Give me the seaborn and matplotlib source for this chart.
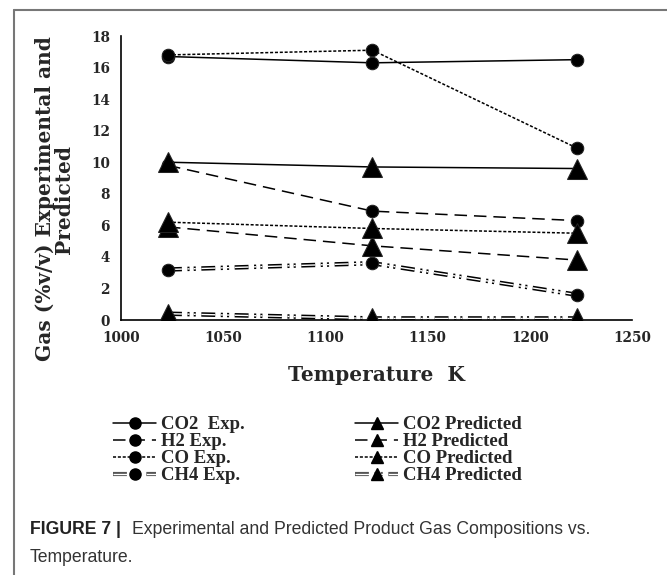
import matplotlib
matplotlib.use("Agg")
import matplotlib.pyplot as plt
import seaborn as sns
from matplotlib.lines import Line2D
from matplotlib.legend_handler import HandlerTuple

sns.set_style("white")
plt.rcParams["lines.scale_dashes"] = False

temperature = [1023, 1123, 1223]
co2_exp = [16.7, 16.3, 16.5]
h2_exp = [9.8, 6.9, 6.3]
co_exp = [16.8, 17.1, 10.9]
ch4_exp = [3.2, 3.6, 1.6]
co2_pred = [10.0, 9.7, 9.6]
h2_pred = [5.9, 4.7, 3.8]
co_pred = [6.2, 5.8, 5.5]
ch4_pred = [0.4, 0.1, 0.1]

x_ticks = [1000, 1050, 1100, 1150, 1200, 1250]
y_ticks = [0, 2, 4, 6, 8, 10, 12, 14, 16, 18]

serif = ["DejaVu Serif"]
times = ["Liberation Serif"]

fig = plt.figure(figsize=(6.67, 5.75), dpi=100)
ax = fig.add_axes([121 / 667, 1 - 320 / 575, (632 - 121) / 667, (320 - 36) / 575])

dash_long = (0, (9, 5))
dash_short = (0, (2.2, 1.3))
dash_ch4 = (0, (10, 4, 1.5, 3, 1.5, 4))

series = [
    (co2_exp, "o", "-", "CO2  Exp."),
    (h2_exp, "o", dash_long, "H2 Exp."),
    (co_exp, "o", dash_short, "CO Exp."),
    (ch4_exp, "o", None, "CH4 Exp."),
    (co2_pred, "^", "-", "CO2 Predicted"),
    (h2_pred, "^", dash_long, "H2 Predicted"),
    (co_pred, "^", dash_short, "CO Predicted"),
    (ch4_pred, "^", None, "CH4 Predicted"),
]

handles = []
labels = []
for vals, mk, ls, lab in series:
    ms = 9 if mk == "o" else 14
    lms = 8 if mk == "o" else 9
    if ls is None:
        sns.lineplot(x=temperature, y=vals, ax=ax, color="black", lw=3.2,
                     linestyle=dash_ch4, zorder=2)
        sns.lineplot(x=temperature, y=vals, ax=ax, color="white", lw=1.0,
                     linestyle=dash_ch4, zorder=2.1)
        sns.lineplot(x=temperature, y=vals, ax=ax, color="black", lw=0,
                     marker=mk, markersize=ms, markeredgecolor="#222222",
                     zorder=3)
        h = (Line2D([], [], color="#555555", lw=3.0, linestyle=dash_ch4),
             Line2D([], [], color="white", lw=0.9, linestyle=dash_ch4),
             Line2D([], [], color="black", lw=0, marker=mk, markersize=lms))
    else:
        sns.lineplot(x=temperature, y=vals, ax=ax, color="black", lw=1.1,
                     linestyle=ls, marker=mk, markersize=ms,
                     markeredgecolor="#222222", zorder=3)
        h = Line2D([], [], color="black", lw=1.1, linestyle=ls, marker=mk,
                   markersize=lms)
    handles.append(h)
    labels.append(lab)

ax.set_xlim(1000, 1250)
ax.set_ylim(0, 18)
ax.set_xticks(x_ticks)
ax.set_yticks(y_ticks)
ax.tick_params(length=0, pad=8)
for t in ax.get_xticklabels() + ax.get_yticklabels():
    t.set_fontfamily(serif)
    t.set_fontweight("bold")
    t.set_fontsize(9.8)
for s in ["top", "right"]:
    ax.spines[s].set_visible(False)
for s in ["left", "bottom"]:
    ax.spines[s].set_color("black")
    ax.spines[s].set_linewidth(1.2)
ax.grid(False)

ax.set_xlabel("Temperature  K", family=serif, fontweight="bold", fontsize=14.5,
              labelpad=14)
ax.set_ylabel("Gas (%v/v) Experimental and\nPredicted", family=serif,
              fontweight="bold", fontsize=14.5, linespacing=0.95)
ax.yaxis.set_label_coords(-0.092, 0.426)

leg = fig.legend(handles, labels,
                 loc="upper left", bbox_to_anchor=(113 / 667, 1 - 416 / 575),
                 ncol=2, frameon=False, prop={"family": times, "weight": "bold",
                                                "size": 13.5},
                 handlelength=2.3, handletextpad=0.25, labelspacing=0.0,
                 columnspacing=5.9, borderaxespad=0, borderpad=0,
                 handler_map={tuple: HandlerTuple(ndivide=1)})

# frame lines
fig.add_artist(Line2D([14 / 667, 14 / 667], [0, 1 - 10 / 575],
                      transform=fig.transFigure, color="#777777", lw=1.5))
fig.add_artist(Line2D([14 / 667, 1], [1 - 10 / 575, 1 - 10 / 575],
                      transform=fig.transFigure, color="#777777", lw=1.5))

cap_font = ["Liberation Sans"]
fig.text(30 / 667, 1 - 530 / 575, "FIGURE 7 |", family=cap_font,
         fontweight="bold", fontsize=12.7, va="center", color="#222222")
fig.text(132 / 667, 1 - 530 / 575,
         "Experimental and Predicted Product Gas Compositions vs.",
         family=cap_font, fontsize=12.7, va="center", color="#333333")
fig.text(30 / 667, 1 - 558 / 575, "Temperature.", family=cap_font,
         fontsize=12.7, va="center", color="#333333")

fig.savefig("out.png", dpi=100)
